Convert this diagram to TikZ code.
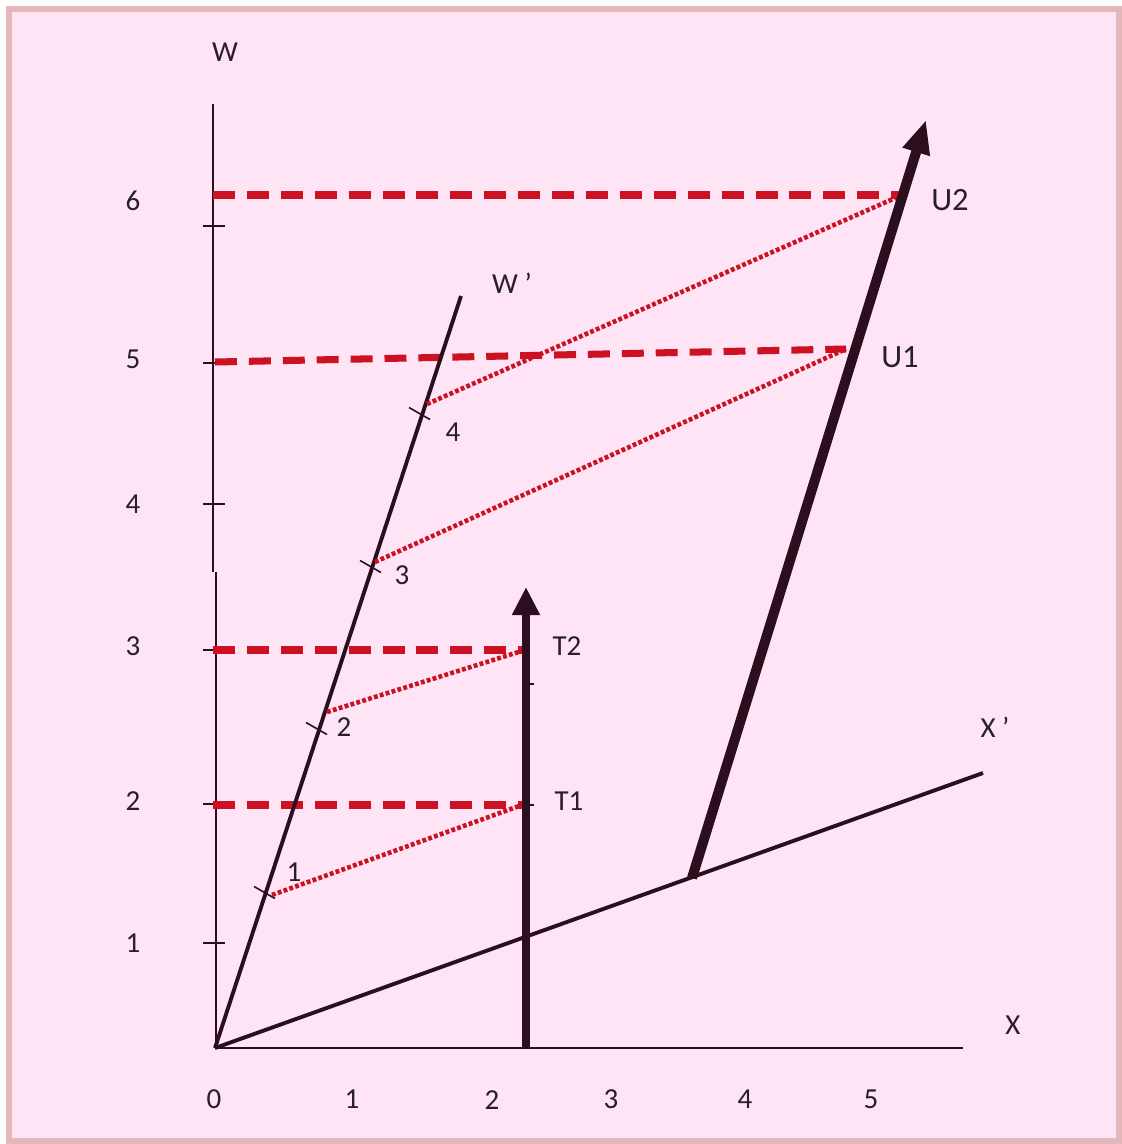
\documentclass[tikz,border=0pt]{standalone}
\usepackage{fontspec}
\setmainfont{Carlito}
\usetikzlibrary{arrows.meta}
\definecolor{bg}{RGB}{254,228,245}
\definecolor{framec}{RGB}{228,184,186}
\definecolor{ink}{RGB}{43,15,31}
\definecolor{redl}{RGB}{204,17,34}
\definecolor{txt}{RGB}{40,30,45}
\begin{document}
\begin{tikzpicture}[x=0.02cm,y=-0.02cm,
  axisl/.style={ink,line width=1.1pt},
  ray/.style={ink,line width=2.2pt},
  tickm/.style={ink,line width=0.9pt},
  level/.style={redl,line width=4pt,dash pattern=on 12.5pt off 6.8pt},
  link/.style={redl,line width=2.6pt,dash pattern=on 2.2pt off 1.3pt},
  tarrow/.style={ink,line width=5.1pt,-{Triangle[length=16pt,width=15pt]}},
  uarrow/.style={ink,line width=5.7pt,-{Triangle[length=19pt,width=15pt]}},
  lab/.style={text=txt,font=\fontsize{16.5}{18}\selectfont,inner sep=0pt},
  ulab/.style={text=txt,font=\fontsize{18.5}{20}\selectfont,inner sep=0pt}]
\useasboundingbox (0,0) rectangle (1122,1144);
\fill[white] (0,0) rectangle (1122,1144);
\filldraw[fill=bg,draw=framec,line width=3.4pt] (9,9) rectangle (1119,1141);

% key points
\coordinate (O) at (215,1048);
\coordinate (Wtop) at (213,104);
\coordinate (Wjog1) at (213,572);
\coordinate (Wjog2) at (216,572);
\coordinate (Wbot) at (216,1048);
\coordinate (Xend) at (963,1048);
\coordinate (Wp) at (461,296);
\coordinate (Xp) at (983,773);
\coordinate (a1) at (267,894);
\coordinate (a2) at (319,730);
\coordinate (a3) at (373,568);
\coordinate (a4) at (422,415);
\coordinate (d1) at (272,895);
\coordinate (d2) at (327,712);
\coordinate (d3) at (375,562);
\coordinate (d4) at (427,404);
\coordinate (T1) at (522,805);
\coordinate (T2) at (525,650);
\coordinate (U1) at (846,349);
\coordinate (U2) at (902,195);
\coordinate (L2) at (213,805);
\coordinate (L3) at (213,650);
\coordinate (L5) at (215,362);
\coordinate (L6) at (213,195);
\coordinate (Tbase) at (526,1048);
\coordinate (Ttip) at (526,587);
\coordinate (Ubase) at (692,878);
\coordinate (Utip) at (926,120);

% axes
\draw[axisl] (Wtop) -- (Wjog1);
\draw[axisl] (Wjog2) -- (Wbot) -- (Xend);
\foreach \yy in {226,363,504,650,804,943}
  \draw[tickm] (203,\yy) -- (225,\yy);

% level lines (dashed)
\draw[level] (L6) -- (U2);
\draw[level] (L5) -- (U1);
\draw[level] (L3) -- (T2);
\draw[level] (L2) -- (T1);

% primed axes
\draw[ray] (O) -- (Wp);
\draw[ray] (O) -- (Xp);
\foreach \p in {a1,a2,a3,a4}
  \draw[tickm] (\p) ++(-13,-7.5) -- ++(21,12);

% dotted links
\draw[link] (d1) -- (T1);
\draw[link] (d2) -- (T2);
\draw[link] (d3) -- (U1);
\draw[link] (d4) -- (U2);

% arrows
\draw[tarrow] (Tbase) -- (Ttip);
\draw[tickm] (529,684) -- (534,684);
\draw[tickm] (529,805) -- (534,805);
\draw[uarrow] (Ubase) -- (Utip);

% labels
\node[lab] (lW) at (225,52) {W};
\node[lab] (lX) at (1013,1025) {X};
\node[lab] (lWp) at (512,283) {W ’};
\node[lab] (lXp) at (995,727) {X ’};
\node[lab] (y6) at (133,201) {6};
\node[lab] (y5) at (133,359) {5};
\node[lab] (y4) at (133,504) {4};
\node[lab] (y3) at (133,646) {3};
\node[lab] (y2) at (133,801) {2};
\node[lab] (y1) at (133,943) {1};
\node[lab] (x0) at (214,1099) {0};
\node[lab] (x1) at (352,1099) {1};
\node[lab] (x2) at (492,1100) {2};
\node[lab] (x3) at (611,1099) {3};
\node[lab] (x4) at (745,1099) {4};
\node[lab] (x5) at (871,1099) {5};
\node[lab] (w1) at (294,872) {1};
\node[lab] (w2) at (344,727) {2};
\node[lab] (w3) at (402,575) {3};
\node[lab] (w4) at (453,432) {4};
\node[lab] (lT2) at (567,646) {T2};
\node[lab] (lT1) at (569,801) {T1};
\node[ulab] (lU1) at (900,357) {U1};
\node[ulab] (lU2) at (950,200) {U2};
\end{tikzpicture}
\end{document}
